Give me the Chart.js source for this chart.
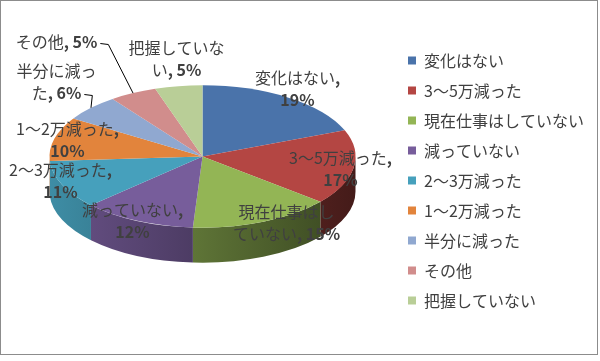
<!DOCTYPE html>
<html>
<head>
<meta charset="utf-8">
<script src="https://cdn.jsdelivr.net/npm/chart.js@4/dist/chart.umd.min.js"></script>
<style>
  html, body { margin: 0; padding: 0; background: #fff; }
  canvas { display: block; }
</style>
</head>
<body>
<canvas id="pieChart" width="600" height="361"></canvas>
<script>
const categories = ["変化はない", "3～5万減った", "現在仕事はしていない", "減っていない", "2～3万減った", "1～2万減った", "半分に減った", "その他", "把握していない"];
const shares = [19, 17, 15, 12, 11, 10, 6, 5, 5];
const sliceColors = ["#4A73AA", "#B44643", "#93B555", "#775D9B", "#46A0BC", "#E2843C", "#90A8D0", "#D18D8C", "#B9CE97"];

// label placement: offset from the top-face centre, wrap width, leader line
const labelOffsets = [[95, -68], [138, 12], [84, 66], [-70, 64], [-142, 24], [-135, -17], [-146, -75], [-146, -115], [-26, -98]];
const labelWrap = [115, 115, 110, 105, 115, 115, 85, 115, 100];
const labelLeader = [false, false, false, false, false, false, true, true, false];

const FONT = '"Noto Sans CJK JP", "Noto Sans", sans-serif';
const TEXT = "#404040";
const TILT = 0.465;  // ry / rx of the top face
const DEPTH = 35;    // side wall height
const LIFT = -24;    // top face centre relative to chart area centre

function shade(hex, f) {
  const n = parseInt(hex.slice(1), 16);
  const r = Math.round(((n >> 16) & 255) * f);
  const g = Math.round(((n >> 8) & 255) * f);
  const b = Math.round((n & 255) * f);
  return `rgb(${r}, ${g}, ${b})`;
}

// label text as characters; the ", NN%" part is bold
function labelChars(cat, val) {
  const out = [];
  for (const ch of cat) out.push({ ch, bold: false });
  for (const ch of `, ${val}%`) out.push({ ch, bold: true });
  return out;
}

function charW(ctx, c) {
  ctx.font = `${c.bold ? "bold " : ""}16px ${FONT}`;
  return ctx.measureText(c.ch).width;
}

function lineW(ctx, chars) {
  return chars.reduce((s, c) => s + charW(ctx, c), 0);
}

function wrapChars(ctx, chars, maxW) {
  const lines = [];
  let line = [];
  for (const c of chars) {
    if (line.length && lineW(ctx, line.concat([c])) > maxW) {
      let sp = -1;
      line.forEach((d, k) => { if (d.ch === " ") sp = k; });
      if (sp > 0) {
        lines.push(line.slice(0, sp));
        line = line.slice(sp + 1).concat(c.ch === " " ? [] : [c]);
      } else {
        lines.push(line);
        line = c.ch === " " ? [] : [c];
      }
    } else {
      line.push(c);
    }
  }
  if (line.length) lines.push(line);
  return lines;
}

function drawLine(ctx, chars, cx, cy) {
  let px = cx - lineW(ctx, chars) / 2;
  chars.forEach((c) => {
    const w = charW(ctx, c);
    ctx.fillText(c.ch, px, cy);
    px += w;
  });
  return px;
}

const pie3d = {
  id: "pie3d",
  beforeDraw(chart) {
    const ctx = chart.ctx;
    ctx.save();
    ctx.fillStyle = "#fff";
    ctx.fillRect(0, 0, chart.width, chart.height);
    ctx.restore();
  },
  beforeDatasetsDraw(chart) {
    const ctx = chart.ctx;
    const arcs = chart.getDatasetMeta(0).data;
    const { x, y, outerRadius: r } = arcs[0];
    const cy = y + LIFT;
    const ry = r * TILT;

    // front side wall, one piece per slice
    arcs.forEach((arc, i) => {
      const s = Math.max(arc.startAngle, 0);
      const e = Math.min(arc.endAngle, Math.PI);
      if (s >= e) return;
      const grad = ctx.createLinearGradient(x - r, 0, x + r, 0);
      grad.addColorStop(0, shade(sliceColors[i], 0.88));
      grad.addColorStop(1, shade(sliceColors[i], 0.38));
      ctx.beginPath();
      ctx.ellipse(x, cy, r, ry, 0, s, e, false);
      ctx.ellipse(x, cy + DEPTH, r, ry, 0, e, s, true);
      ctx.closePath();
      ctx.fillStyle = grad;
      ctx.fill();
    });

    // squash the pie into the top face
    ctx.save();
    ctx.translate(x, cy);
    ctx.scale(1, TILT);
    ctx.translate(-x, -y);
  },
  afterDatasetsDraw(chart) {
    chart.ctx.restore();
  },
  afterDraw(chart) {
    const ctx = chart.ctx;
    const arcs = chart.getDatasetMeta(0).data;
    const { x, y, outerRadius: r } = arcs[0];
    const cy = y + LIFT;
    const ry = r * TILT;

    ctx.save();
    ctx.fillStyle = TEXT;
    ctx.strokeStyle = "#000";
    ctx.lineWidth = 1;
    ctx.textAlign = "left";
    ctx.textBaseline = "middle";
    const lh = 22;
    categories.forEach((cat, i) => {
      const lines = wrapChars(ctx, labelChars(cat, shares[i]), labelWrap[i]);
      const lx = x + labelOffsets[i][0];
      const ly = cy + labelOffsets[i][1];
      let endX = 0;
      lines.forEach((ln, j) => {
        endX = drawLine(ctx, ln, lx, ly + (j - (lines.length - 1) / 2) * lh);
      });
      if (labelLeader[i]) {
        const sy = ly + ((lines.length - 1) / 2) * lh + 2;
        const sx = endX + 3;
        const mid = (arcs[i].startAngle + arcs[i].endAngle) / 2;
        ctx.beginPath();
        ctx.moveTo(sx, sy);
        ctx.lineTo(sx + 8, sy + 1);
        ctx.lineTo(x + r * Math.cos(mid), cy + ry * Math.sin(mid));
        ctx.stroke();
      }
    });

    // outer frame
    ctx.strokeStyle = "#8c8c8c";
    ctx.strokeRect(0.5, 0.5, 597, 354);
    ctx.restore();
  },
};

new Chart(document.getElementById("pieChart"), {
  type: "pie",
  data: {
    labels: categories,
    datasets: [
      {
        data: shares,
        backgroundColor: sliceColors,
        borderWidth: 0,
        radius: 153,
      },
    ],
  },
  options: {
    responsive: false,
    animation: false,
    events: [],
    layout: { padding: { left: 11, right: 6, top: 0, bottom: 0 } },
    plugins: {
      tooltip: { enabled: false },
      legend: {
        position: "right",
        labels: {
          boxWidth: 8,
          boxHeight: 8,
          padding: 14,
          color: TEXT,
          font: { size: 16, family: FONT },
        },
      },
    },
  },
  plugins: [pie3d],
});
</script>
</body>
</html>
